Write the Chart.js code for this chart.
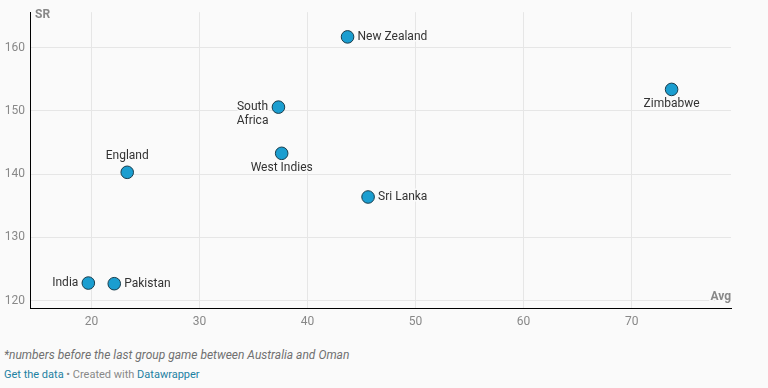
<!DOCTYPE html>
<html>
<head>
<meta charset="utf-8">
<script src="https://cdn.jsdelivr.net/npm/chart.js@4"></script>
<style>
  html,body{margin:0;padding:0;background:#fafafa;}
  body{width:768px;height:388px;overflow:hidden;position:relative;font-family:Roboto,"Noto Sans",sans-serif;}
  #wrap{position:absolute;left:0;top:0;width:768px;height:340px;}
  #note{position:absolute;left:4px;top:348px;font-size:12px;font-style:italic;color:#707070;white-space:nowrap;}
  #src{position:absolute;left:4px;top:368px;font-size:11px;color:#888;white-space:nowrap;}
  #src a{color:#1d81a2;text-decoration:none;}
</style>
</head>
<body>
<div id="wrap"><canvas id="c" width="768" height="340"></canvas></div>
<div id="note">*numbers before the last group game between Australia and Oman</div>
<div id="src"><a>Get the data</a> • Created with <a>Datawrapper</a></div>
<script>
const teams = ["New Zealand","South Africa","West Indies","England","Sri Lanka","Zimbabwe","India","Pakistan"];
const avgValues = [43.7, 37.3, 37.6, 23.3, 45.6, 73.7, 19.7, 22.1];
const srValues = [161.7, 150.6, 143.3, 140.3, 136.4, 153.4, 122.8, 122.7];
const labelPlacement = ["right","left","below","above","right","below","left","right"];
const xTicks = [20,30,40,50,60,70];
const yTicks = [120,130,140,150,160];

const points = teams.map((t,i)=>({x:avgValues[i], y:srValues[i]}));

const labelPlugin = {
  id:'labels',
  afterDatasetsDraw(chart){
    const ctx = chart.ctx;
    const xs = chart.scales.x, ys = chart.scales.y;
    ctx.save();
    ctx.font = '12px Roboto, "Noto Sans", sans-serif';
    ctx.fillStyle = '#333';
    ctx.strokeStyle = '#fafafa';
    ctx.lineWidth = 3;
    ctx.lineJoin = 'round';
    teams.forEach((name,i)=>{
      const px = xs.getPixelForValue(avgValues[i]);
      const py = ys.getPixelForValue(srValues[i]);
      const pos = labelPlacement[i];
      let lines = [name];
      if (name === "South Africa") lines = ["South","Africa"];
      const draw = (txt,x,y)=>{ctx.strokeText(txt,x,y);ctx.fillText(txt,x,y);};
      ctx.textBaseline = 'middle';
      if (pos === 'right') {
        ctx.textAlign = 'left';
        draw(name, px + 10, py);
      } else if (pos === 'left') {
        if (lines.length > 1) {
          const w = Math.max(...lines.map(l=>ctx.measureText(l).width));
          ctx.textAlign = 'center';
          const cx = px - 10 - w/2;
          lines.forEach((l,k)=>draw(l, cx, py + k*14));
        } else {
          ctx.textAlign = 'right';
          draw(name, px - 10, py);
        }
      } else if (pos === 'below') {
        ctx.textAlign = 'center';
        draw(name, px, py + 15);
      } else {
        ctx.textAlign = 'center';
        draw(name, px, py - 16);
      }
    });
    ctx.font = 'bold 12px Roboto, "Noto Sans", sans-serif';
    ctx.fillStyle = '#888';
    ctx.lineWidth = 3;
    ctx.textBaseline = 'middle';
    ctx.textAlign = 'left';
    ctx.strokeText('SR', chart.chartArea.left + 5, 15);
    ctx.fillText('SR', chart.chartArea.left + 5, 15);
    ctx.textAlign = 'right';
    ctx.strokeText('Avg', chart.chartArea.right, chart.chartArea.bottom - 11);
    ctx.fillText('Avg', chart.chartArea.right, chart.chartArea.bottom - 11);
    ctx.restore();
  }
};

new Chart(document.getElementById('c'), {
  type:'scatter',
  data:{datasets:[{
    data:points,
    backgroundColor:'#1b9ed0',
    borderColor:'#1a3d4c',
    borderWidth:1,
    pointRadius:6.3,
    pointHoverRadius:6.3
  }]},
  options:{
    responsive:false,
    animation:false,
    events:[],
    layout:{padding:{left:0,right:37,top:6.5,bottom:0}},
    plugins:{legend:{display:false},tooltip:{enabled:false}},
    scales:{
      x:{
        type:'linear', min:14.3, max:79.2,
        afterBuildTicks(s){ s.ticks = xTicks.map(v=>({value:v})); },
        afterFit(s){ s.height = 32; },
        grid:{color:'#e6e6e6', drawTicks:false},
        border:{display:true, color:'#000', width:1},
        ticks:{padding:7, color:'#888', font:{family:'Roboto', size:12}}
      },
      y:{
        type:'linear', min:118.86, max:165.6,
        afterBuildTicks(s){ s.ticks = yTicks.map(v=>({value:v})); },
        afterFit(s){ s.width = 30; },
        grid:{color:'#e6e6e6', drawTicks:false},
        border:{display:true, color:'#000', width:1},
        ticks:{padding:5, color:'#888', font:{family:'Roboto', size:12}}
      }
    }
  },
  plugins:[labelPlugin]
});
</script>
</body>
</html>
